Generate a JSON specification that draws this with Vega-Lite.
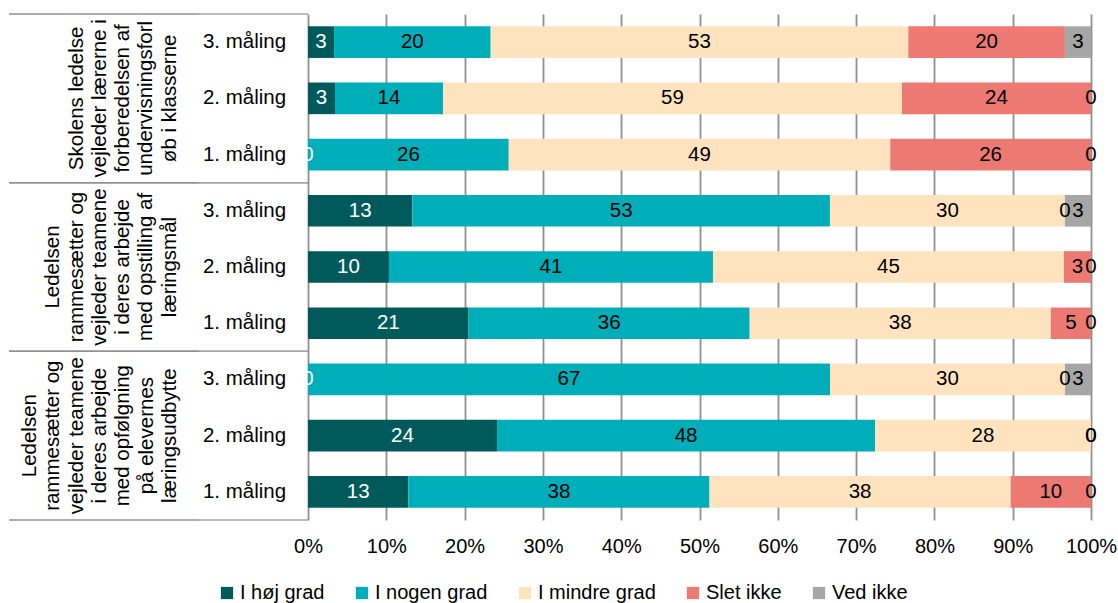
{
  "$schema": "https://vega.github.io/schema/vega-lite/v6.json",
  "padding": {"left": 8, "top": 13, "right": 4, "bottom": 0},
  "spacing": 0,
  "bounds": "flush",
  "config": {
    "font": "Liberation Sans",
    "view": {"stroke": null},
    "concat": {"spacing": 0},
    "legend": {"layout": {"bottom": {"anchor": "middle"}}}
  },
  "datasets": {
    "groups": [
      {"spm": "A", "label": "Skolens ledelse\nvejleder lærerne i\nforberedelsen af\nundervisningsforl\nøb i klasserne"},
      {"spm": "B", "label": "Ledelsen\nrammesætter og\nvejleder teamene\ni deres arbejde\nmed opstilling af\nlæringsmål"},
      {"spm": "C", "label": "Ledelsen\nrammesætter og\nvejleder teamene\ni deres arbejde\nmed opfølgning\npå elevernes\nlæringsudbytte"}
    ],
    "values": [
      {"spm": "A", "maaling": "3. måling", "svar": "I høj grad", "nr": 1, "pct": 3.33},
      {"spm": "A", "maaling": "3. måling", "svar": "I nogen grad", "nr": 2, "pct": 20.0},
      {"spm": "A", "maaling": "3. måling", "svar": "I mindre grad", "nr": 3, "pct": 53.34},
      {"spm": "A", "maaling": "3. måling", "svar": "Slet ikke", "nr": 4, "pct": 20.0},
      {"spm": "A", "maaling": "3. måling", "svar": "Ved ikke", "nr": 5, "pct": 3.33},
      {"spm": "A", "maaling": "2. måling", "svar": "I høj grad", "nr": 1, "pct": 3.45},
      {"spm": "A", "maaling": "2. måling", "svar": "I nogen grad", "nr": 2, "pct": 13.79},
      {"spm": "A", "maaling": "2. måling", "svar": "I mindre grad", "nr": 3, "pct": 58.62},
      {"spm": "A", "maaling": "2. måling", "svar": "Slet ikke", "nr": 4, "pct": 24.14},
      {"spm": "A", "maaling": "2. måling", "svar": "Ved ikke", "nr": 5, "pct": 0},
      {"spm": "A", "maaling": "1. måling", "svar": "I høj grad", "nr": 1, "pct": 0},
      {"spm": "A", "maaling": "1. måling", "svar": "I nogen grad", "nr": 2, "pct": 25.64},
      {"spm": "A", "maaling": "1. måling", "svar": "I mindre grad", "nr": 3, "pct": 48.72},
      {"spm": "A", "maaling": "1. måling", "svar": "Slet ikke", "nr": 4, "pct": 25.64},
      {"spm": "A", "maaling": "1. måling", "svar": "Ved ikke", "nr": 5, "pct": 0},
      {"spm": "B", "maaling": "3. måling", "svar": "I høj grad", "nr": 1, "pct": 13.33},
      {"spm": "B", "maaling": "3. måling", "svar": "I nogen grad", "nr": 2, "pct": 53.33},
      {"spm": "B", "maaling": "3. måling", "svar": "I mindre grad", "nr": 3, "pct": 30.0},
      {"spm": "B", "maaling": "3. måling", "svar": "Slet ikke", "nr": 4, "pct": 0},
      {"spm": "B", "maaling": "3. måling", "svar": "Ved ikke", "nr": 5, "pct": 3.34},
      {"spm": "B", "maaling": "2. måling", "svar": "I høj grad", "nr": 1, "pct": 10.34},
      {"spm": "B", "maaling": "2. måling", "svar": "I nogen grad", "nr": 2, "pct": 41.38},
      {"spm": "B", "maaling": "2. måling", "svar": "I mindre grad", "nr": 3, "pct": 44.83},
      {"spm": "B", "maaling": "2. måling", "svar": "Slet ikke", "nr": 4, "pct": 3.45},
      {"spm": "B", "maaling": "2. måling", "svar": "Ved ikke", "nr": 5, "pct": 0},
      {"spm": "B", "maaling": "1. måling", "svar": "I høj grad", "nr": 1, "pct": 20.51},
      {"spm": "B", "maaling": "1. måling", "svar": "I nogen grad", "nr": 2, "pct": 35.9},
      {"spm": "B", "maaling": "1. måling", "svar": "I mindre grad", "nr": 3, "pct": 38.46},
      {"spm": "B", "maaling": "1. måling", "svar": "Slet ikke", "nr": 4, "pct": 5.13},
      {"spm": "B", "maaling": "1. måling", "svar": "Ved ikke", "nr": 5, "pct": 0},
      {"spm": "C", "maaling": "3. måling", "svar": "I høj grad", "nr": 1, "pct": 0},
      {"spm": "C", "maaling": "3. måling", "svar": "I nogen grad", "nr": 2, "pct": 66.67},
      {"spm": "C", "maaling": "3. måling", "svar": "I mindre grad", "nr": 3, "pct": 30.0},
      {"spm": "C", "maaling": "3. måling", "svar": "Slet ikke", "nr": 4, "pct": 0},
      {"spm": "C", "maaling": "3. måling", "svar": "Ved ikke", "nr": 5, "pct": 3.33},
      {"spm": "C", "maaling": "2. måling", "svar": "I høj grad", "nr": 1, "pct": 24.14},
      {"spm": "C", "maaling": "2. måling", "svar": "I nogen grad", "nr": 2, "pct": 48.28},
      {"spm": "C", "maaling": "2. måling", "svar": "I mindre grad", "nr": 3, "pct": 27.58},
      {"spm": "C", "maaling": "2. måling", "svar": "Slet ikke", "nr": 4, "pct": 0},
      {"spm": "C", "maaling": "2. måling", "svar": "Ved ikke", "nr": 5, "pct": 0},
      {"spm": "C", "maaling": "1. måling", "svar": "I høj grad", "nr": 1, "pct": 12.82},
      {"spm": "C", "maaling": "1. måling", "svar": "I nogen grad", "nr": 2, "pct": 38.46},
      {"spm": "C", "maaling": "1. måling", "svar": "I mindre grad", "nr": 3, "pct": 38.46},
      {"spm": "C", "maaling": "1. måling", "svar": "Slet ikke", "nr": 4, "pct": 10.26},
      {"spm": "C", "maaling": "1. måling", "svar": "Ved ikke", "nr": 5, "pct": 0}
    ]
  },
  "hconcat": [
    {
      "width": 190,
      "height": 506,
      "data": {"name": "groups"},
      "layer": [
        {
          "mark": {"type": "rule", "color": "#929292", "strokeWidth": 1.5},
          "encoding": {"y": {"field": "spm", "type": "nominal", "sort": "ascending", "axis": null, "bandPosition": 0, "scale": {"paddingInner": 0, "paddingOuter": 0}}}
        },
        {
          "mark": {"type": "rule", "color": "#929292", "strokeWidth": 1.5},
          "encoding": {"y": {"field": "spm", "type": "nominal", "sort": "ascending", "axis": null, "bandPosition": 1, "scale": {"paddingInner": 0, "paddingOuter": 0}}}
        },
        {
          "transform": [{"filter": "datum.spm === 'A'"}],
          "mark": {"type": "text", "angle": 270, "align": "center", "baseline": "alphabetic", "lineBreak": "\n", "fontSize": 20.5, "lineHeight": 23.3, "dy": -21.4, "color": "#000000"},
          "encoding": {
            "y": {"field": "spm", "type": "nominal", "sort": "ascending", "axis": null, "scale": {"paddingInner": 0, "paddingOuter": 0}},
            "text": {"field": "label", "type": "nominal"}
          }
        },
        {
          "transform": [{"filter": "datum.spm === 'B'"}],
          "mark": {"type": "text", "angle": 270, "align": "center", "baseline": "alphabetic", "lineBreak": "\n", "fontSize": 20.5, "lineHeight": 23.3, "dy": -44.7, "color": "#000000"},
          "encoding": {
            "y": {"field": "spm", "type": "nominal", "sort": "ascending", "axis": null, "scale": {"paddingInner": 0, "paddingOuter": 0}},
            "text": {"field": "label", "type": "nominal"}
          }
        },
        {
          "transform": [{"filter": "datum.spm === 'C'"}],
          "mark": {"type": "text", "angle": 270, "align": "center", "baseline": "alphabetic", "lineBreak": "\n", "fontSize": 20.5, "lineHeight": 23.3, "dy": -68, "color": "#000000"},
          "encoding": {
            "y": {"field": "spm", "type": "nominal", "sort": "ascending", "axis": null, "scale": {"paddingInner": 0, "paddingOuter": 0}},
            "text": {"field": "label", "type": "nominal"}
          }
        }
      ]
    },
    {
      "width": 109,
      "height": 506,
      "layer": [
        {
          "data": {"name": "groups"},
          "mark": {"type": "rule", "color": "#a6a6a6", "strokeWidth": 1.5},
          "encoding": {"y": {"field": "spm", "type": "nominal", "sort": "ascending", "axis": null, "bandPosition": 0, "scale": {"paddingInner": 0, "paddingOuter": 0}}}
        },
        {
          "data": {"name": "groups"},
          "mark": {"type": "rule", "color": "#a6a6a6", "strokeWidth": 1.5},
          "encoding": {"y": {"field": "spm", "type": "nominal", "sort": "ascending", "axis": null, "bandPosition": 1, "scale": {"paddingInner": 0, "paddingOuter": 0}}}
        },
        {
          "data": {"name": "values"},
          "transform": [{"filter": "datum.nr === 1"}],
          "mark": {"type": "text", "fontSize": 20.5, "dx": -9, "color": "#000000"},
          "encoding": {
            "y": {"field": "spm", "type": "nominal", "sort": "ascending", "axis": null, "scale": {"paddingInner": 0, "paddingOuter": 0}},
            "yOffset": {"field": "maaling", "type": "nominal", "sort": "descending", "scale": {"paddingInner": 0.437, "paddingOuter": 0.2185}},
            "text": {"field": "maaling", "type": "nominal"}
          }
        }
      ]
    },
    {
      "width": 783,
      "height": 506,
      "data": {"name": "values"},
      "encoding": {
        "y": {"field": "spm", "type": "nominal", "sort": "ascending", "axis": null, "scale": {"paddingInner": 0, "paddingOuter": 0}},
        "yOffset": {"field": "maaling", "type": "nominal", "sort": "descending", "scale": {"paddingInner": 0.437, "paddingOuter": 0.2185}},
        "order": {"field": "nr", "type": "quantitative"}
      },
      "layer": [
        {
          "mark": {"type": "bar"},
          "encoding": {
            "x": {
              "field": "pct", "type": "quantitative", "stack": "normalize",
              "scale": {"domain": [0, 1], "nice": false},
              "axis": {
                "values": [0, 0.1, 0.2, 0.3, 0.4, 0.5, 0.6, 0.7, 0.8, 0.9, 1],
                "format": ".0%", "title": null, "grid": true, "gridColor": "#8f8f8f", "gridWidth": 1.8,
                "domain": false, "ticks": false, "labelFontSize": 20, "labelColor": "#000000",
                "labelPadding": 16, "labelFlush": false
              }
            },
            "color": {
              "field": "svar", "type": "nominal",
              "scale": {
                "domain": ["I høj grad", "I nogen grad", "I mindre grad", "Slet ikke", "Ved ikke"],
                "range": ["#005a5c", "#00aeb9", "#ffe3be", "#ec7a73", "#a6a6a6"]
              },
              "legend": {
                "orient": "bottom", "direction": "horizontal", "title": null, "symbolType": "square",
                "symbolSize": 150, "symbolStrokeWidth": 0, "labelFontSize": 20, "labelColor": "#000000",
                "columnPadding": 27, "labelOffset": 3, "offset": 27
              }
            }
          }
        },
        {
          "mark": {"type": "text", "fontSize": 20.5},
          "encoding": {
            "x": {"field": "pct", "type": "quantitative", "stack": "normalize", "bandPosition": 0.5},
            "text": {"field": "pct", "type": "quantitative", "format": ".0f"},
            "color": {"condition": {"test": "datum.svar === 'I høj grad'", "value": "#ffffff"}, "value": "#000000"}
          }
        }
      ]
    }
  ]
}
